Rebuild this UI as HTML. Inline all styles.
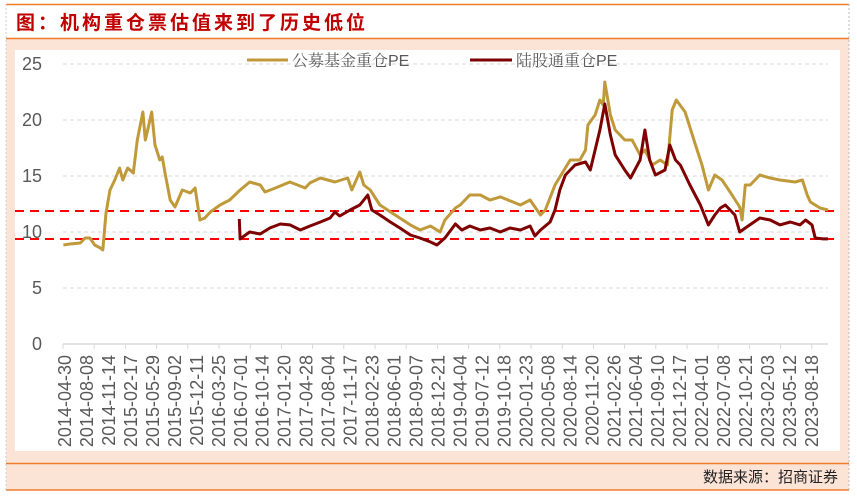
<!DOCTYPE html>
<html><head><meta charset="utf-8"><style>
html,body{margin:0;padding:0;background:#fff;}
svg{display:block;font-family:"Liberation Sans","Noto Sans CJK SC",sans-serif;}
</style></head><body>
<svg width="857" height="496" viewBox="0 0 857 496">
<rect x="6" y="38" width="843" height="452" fill="#fbe3d6"/>
<rect x="15" y="50" width="825" height="401" fill="#fff"/>
<line x1="6" y1="4.5" x2="849" y2="4.5" stroke="#f07c2a" stroke-width="1.5"/>
<line x1="6" y1="38.5" x2="849" y2="38.5" stroke="#f07c2a" stroke-width="1.5"/>
<line x1="6" y1="463.5" x2="849" y2="463.5" stroke="#f07c2a" stroke-width="1.5"/>
<line x1="6" y1="490" x2="849" y2="490" stroke="#f07c2a" stroke-width="1.5"/>
<line x1="849" y1="4" x2="849" y2="490" stroke="#bbb" stroke-dasharray="2,2"/>
<line x1="6" y1="4" x2="6" y2="490" stroke="#ccc" stroke-dasharray="2,2"/>
<text x="16" y="29" font-size="19" font-weight="bold" fill="#c00000" letter-spacing="3" font-family="'Liberation Sans','Noto Sans CJK SC',sans-serif">图：机构重仓票估值来到了历史低位</text>
<text x="838" y="482" font-size="15" fill="#222" text-anchor="end" font-family="'Liberation Sans','Noto Sans CJK SC',sans-serif">数据来源：招商证券</text>
<g id="grid"></g><g id="axes"></g><g id="ref"></g><g id="series"></g>
<g>
<line x1="247" y1="60" x2="288" y2="60" stroke="#c09a3a" stroke-width="3"/>
<text x="292" y="66" font-size="16" fill="#595959" font-family="'Liberation Sans','Noto Serif CJK SC',serif">公募基金重仓PE</text>
<line x1="470" y1="60" x2="512" y2="60" stroke="#7f0000" stroke-width="3"/>
<text x="516" y="66" font-size="16" fill="#595959" font-family="'Liberation Sans','Noto Serif CJK SC',serif">陆股通重仓PE</text>
</g>
</svg>
<script>
const xLabels=["2014-04-30","2014-08-08","2014-11-14","2015-02-17","2015-05-29","2015-09-02","2015-12-11","2016-03-25","2016-07-01","2016-10-14","2017-01-20","2017-04-28","2017-08-04","2017-11-17","2018-02-23","2018-06-01","2018-09-07","2018-12-21","2019-04-04","2019-07-12","2019-10-18","2020-01-23","2020-05-08","2020-08-14","2020-11-20","2021-02-26","2021-06-04","2021-09-10","2021-12-17","2022-04-01","2022-07-08","2022-10-21","2023-02-03","2023-05-12","2023-08-18"];
const yTicks=[0,5,10,15,20,25];
const refLines=[11.88,9.38];
const fundT=[2014.31,2014.39,2014.52,2014.58,2014.64,2014.70,2014.77,2014.80,2014.84,2014.89,2014.95,2015.01,2015.05,2015.11,2015.18,2015.23,2015.30,2015.33,2015.36,2015.41,2015.45,2015.51,2015.54,2015.58,2015.64,2015.70,2015.79,2015.89,2015.95,2016.01,2016.07,2016.14,2016.26,2016.38,2016.51,2016.63,2016.76,2016.82,2016.95,2017.13,2017.32,2017.38,2017.51,2017.69,2017.85,2017.90,2018.00,2018.05,2018.13,2018.25,2018.44,2018.63,2018.75,2018.88,2019.00,2019.06,2019.19,2019.25,2019.37,2019.50,2019.62,2019.75,2020.00,2020.12,2020.25,2020.31,2020.43,2020.62,2020.74,2020.81,2020.84,2020.93,2020.99,2021.03,2021.05,2021.12,2021.18,2021.30,2021.39,2021.49,2021.55,2021.64,2021.74,2021.83,2021.89,2021.94,2022.05,2022.18,2022.26,2022.34,2022.42,2022.51,2022.61,2022.73,2022.76,2022.80,2022.86,2022.98,2023.11,2023.23,2023.42,2023.51,2023.57,2023.61,2023.73,2023.83];
const fundPE=[8.84,8.93,9.02,9.46,9.46,8.84,8.57,8.39,11.7,13.75,14.64,15.71,14.64,15.71,15.27,18.21,20.71,18.21,19.11,20.71,17.77,16.43,16.7,15.09,12.86,12.23,13.75,13.48,13.93,11.07,11.25,11.79,12.41,12.86,13.75,14.46,14.2,13.57,13.93,14.46,13.93,14.38,14.82,14.46,14.82,13.75,15.36,14.2,13.75,12.41,11.52,10.63,10.18,10.54,10.0,11.07,12.14,12.41,13.3,13.3,12.86,13.13,12.41,12.86,11.52,11.96,14.2,16.43,16.43,17.32,19.55,20.45,21.79,21.34,23.39,20.45,19.11,18.21,18.21,16.88,17.32,15.98,16.43,15.98,20.89,21.79,20.71,17.77,15.98,13.75,15.09,14.64,13.57,12.23,11.07,14.2,14.2,15.09,14.82,14.64,14.46,14.64,13.3,12.68,12.14,11.96];
const northT=[2016.50,2016.51,2016.63,2016.76,2016.88,2017.01,2017.13,2017.26,2017.38,2017.51,2017.63,2017.69,2017.75,2017.88,2018.00,2018.10,2018.15,2018.25,2018.38,2018.50,2018.63,2018.75,2018.88,2018.96,2019.06,2019.19,2019.27,2019.37,2019.50,2019.62,2019.75,2019.87,2020.00,2020.12,2020.18,2020.25,2020.37,2020.43,2020.49,2020.56,2020.68,2020.81,2020.87,2020.93,2020.99,2021.05,2021.12,2021.18,2021.30,2021.37,2021.49,2021.55,2021.61,2021.68,2021.80,2021.86,2021.93,2021.99,2022.11,2022.24,2022.34,2022.42,2022.49,2022.55,2022.61,2022.67,2022.73,2022.80,2022.98,2023.11,2023.23,2023.36,2023.48,2023.55,2023.63,2023.67,2023.77,2023.83];
const northPE=[11.16,9.38,10.0,9.82,10.36,10.71,10.63,10.18,10.54,10.89,11.25,11.79,11.43,11.96,12.41,13.3,11.96,11.52,10.89,10.36,9.73,9.46,9.11,8.84,9.46,10.71,10.18,10.54,10.18,10.36,10.0,10.36,10.18,10.54,9.64,10.18,10.89,11.96,13.75,15.09,15.98,16.25,15.54,17.32,19.11,21.43,18.66,16.88,15.54,14.82,16.43,19.11,16.43,15.09,15.54,17.77,16.43,15.98,14.2,12.41,10.63,11.52,12.14,12.41,11.96,11.52,10.0,10.36,11.25,11.07,10.63,10.89,10.63,11.07,10.63,9.46,9.38,9.38];

const NS='http://www.w3.org/2000/svg';
const X0=65,X1=812,T0=2014.33,T1=2023.63,Y0=344,YS=11.2;
function xT(t){return X0+(t-T0)*(X1-X0)/(T1-T0);}
function xI(i){return X0+i*(X1-X0)/(xLabels.length-1);}
function yV(v){return Y0-v*YS;}
function mk(tag,attrs,parent){const e=document.createElementNS(NS,tag);for(const k in attrs)e.setAttribute(k,attrs[k]);parent.appendChild(e);return e;}
const grid=document.getElementById('grid'),axes=document.getElementById('axes'),ref=document.getElementById('ref'),series=document.getElementById('series');
yTicks.forEach(v=>{
  if(v>0){const g=mk('line',{x1:63,x2:828,y1:yV(v),y2:yV(v),stroke:'#d9d9d9','stroke-dasharray':'4,3'},grid);
  
  }
  const t=mk('text',{x:42,y:yV(v)+6,'font-size':18,fill:'#595959','text-anchor':'end'},axes);
  t.textContent=v;
  
  
});
const ax=mk('line',{x1:63,x2:828,y1:Y0,y2:Y0,stroke:'#d9d9d9','stroke-width':1.5},axes);


for(let x=63;x<=830;x+=31.2){const tk=mk('line',{x1:x,x2:x,y1:Y0,y2:Y0+5,stroke:'#d9d9d9'},axes);

}
xLabels.forEach((l,i)=>{
  const x=xI(i);
  const t=mk('text',{x:0,y:0,'font-size':18,fill:'#595959','text-anchor':'end',transform:`translate(${x+6},355) rotate(-90)`},axes);
  t.textContent=l;
  
  
});
refLines.forEach((v,i)=>{
  const r=mk('line',{x1:15,x2:840,y1:yV(v),y2:yV(v),stroke:'#ff0000','stroke-width':2,'stroke-dasharray':'9,6'},ref);
  
  
});
function path(ts,vs,color,name){
  const d=ts.map((t,i)=>(i?'L':'M')+xT(t).toFixed(1)+','+yV(vs[i]).toFixed(1)).join('');
  const p=mk('path',{d:d,fill:'none',stroke:color,'stroke-width':3,'stroke-linejoin':'round'},series);
  
  
}
path(fundT,fundPE,'#c09a3a','fund-pe-line');
path(northT,northPE,'#7f0000','northbound-pe-line');
</script>
</body></html>
